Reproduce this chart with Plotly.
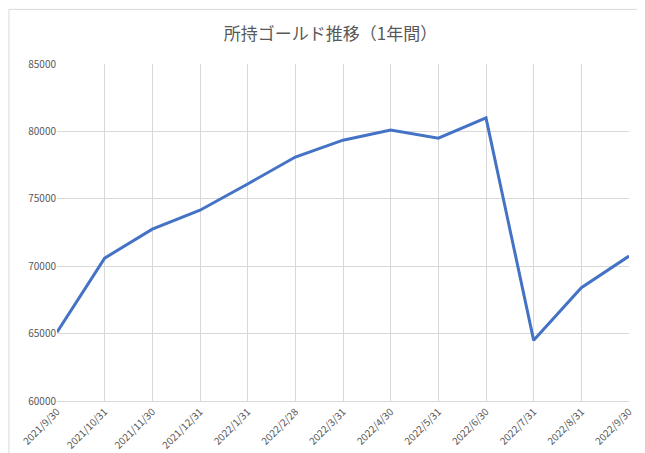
import plotly.graph_objects as go

dates = ["2021/9/30","2021/10/31","2021/11/30","2021/12/31","2022/1/31","2022/2/28",
         "2022/3/31","2022/4/30","2022/5/31","2022/6/30","2022/7/31","2022/8/31","2022/9/30"]
gold = [65100,70600,72750,74150,76100,78100,79350,80100,79500,81000,64500,68400,70750]

fig = go.Figure(go.Scatter(x=dates, y=gold, mode="lines",
                           line=dict(color="#4472C4", width=3)))
fig.update_layout(
    width=645, height=453, margin=dict(l=49, r=24, t=56, b=60, autoexpand=False),
    paper_bgcolor="white", plot_bgcolor="white",
    font=dict(family="Noto Sans CJK JP", color="#595959", size=10),
    title=dict(text="所持ゴールド推移（1年間）", x=0.5, y=0.955, xanchor="center",
               font=dict(size=17, color="#595959")),
    showlegend=False,
    shapes=[dict(type="rect", xref="paper", yref="paper", x0=-0.084, x1=1.039, y0=-0.174, y1=1.162,
                 line=dict(color="#D9D9D9", width=1))],
)
fig.update_xaxes(type="category", tickangle=-45, showgrid=True, gridcolor="#D9D9D9",
                 showline=True, linecolor="#D9D9D9", ticks="", range=[0, 12], automargin=False)
fig.update_yaxes(range=[60000, 85000], dtick=5000, showgrid=True, gridcolor="#D9D9D9",
                 zeroline=False, tickformat="d", ticks="", automargin=False)
fig.write_html("out.html")
